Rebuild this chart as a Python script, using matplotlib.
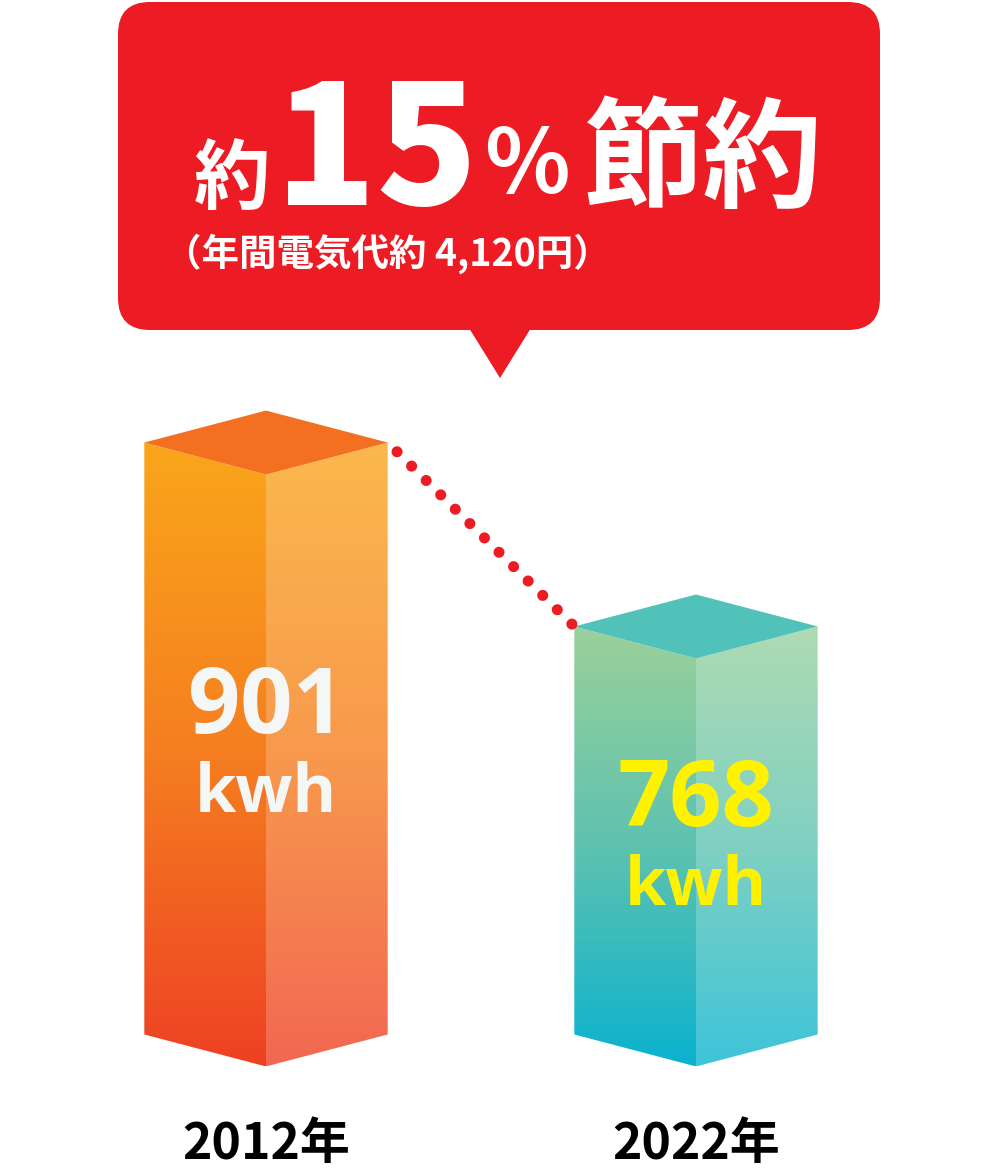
import numpy as np
import matplotlib.pyplot as plt
from matplotlib.colors import LinearSegmentedColormap
from matplotlib.patches import Polygon, FancyBboxPatch

# data
years = ['2012年', '2022年']
usage_kwh = [901, 768]
value_labels = ['901', '768']
unit_label = 'kwh'
headline = ['約', '15', '%', '節約']
subline = '（年間電気代約 4,120円）'

BASE = 473          # kwh level at the foot of the bars
HW = 0.283          # half width of a bar (category units)
D = 32              # depth of the top diamond (px)

left_cols = [['#FAA61A', '#F57E20', '#EE4124'], ['#9BD09A', '#5EC2B0', '#0AB2CE']]
right_cols = [['#FBB84C', '#F8994D', '#F26752'], ['#AEDBB3', '#80D0C2', '#3DC4D9']]
top_cols = ['#F37021', '#50C2BA']
text_cols = ['#F5F7F7', '#FFF200']
RED = '#ED1C24'

plt.rcParams['font.family'] = ['Noto Sans CJK JP', 'DejaVu Sans']

fig = plt.figure(figsize=(10, 11.7), dpi=100)
ax = fig.add_axes([0, 0, 1, 1])
ax.set_xlim(0, 1000)
ax.set_ylim(1170, 0)
ax.axis('off')

# value axes: x = category, y = kwh
vax = fig.add_axes([0, 0, 1, 1])
vax.set_xlim(-0.6186, 1.7070)
vax.set_ylim(375, 1221)
vax.axis('off')
vax.patch.set_visible(False)


def to_px(x, y):
    disp = vax.transData.transform(np.column_stack([np.atleast_1d(x), np.atleast_1d(y)]))
    return ax.transData.inverted().transform(disp)


def grad_face(verts, cols, z=2):
    verts = np.asarray(verts)
    poly = Polygon(verts, closed=True, facecolor='none', edgecolor='none')
    ax.add_patch(poly)
    cmap = LinearSegmentedColormap.from_list('g', cols)
    img = ax.imshow(np.linspace(0, 1, 256).reshape(-1, 1), cmap=cmap, aspect='auto',
                    extent=[verts[:, 0].min(), verts[:, 0].max(), verts[:, 1].max(), verts[:, 1].min()],
                    origin='upper', interpolation='bilinear', zorder=z)
    img.set_clip_path(poly)


# callout
ax.add_patch(FancyBboxPatch((118, 2), 762, 328, boxstyle='round,pad=0,rounding_size=32',
                            facecolor=RED, edgecolor='none', zorder=1))
ax.add_patch(Polygon([(469, 328), (531, 328), (500, 378)], closed=True,
                     facecolor=RED, edgecolor='none', zorder=1))

ax.text(232, 203, headline[0], fontsize=55, fontweight='bold', color='white',
        ha='center', va='baseline', zorder=3)
ax.text(376, 205, headline[1], fontsize=120, fontweight='heavy', color='white',
        ha='center', va='baseline', zorder=3)
ax.text(527, 193, headline[2], fontsize=64, fontweight='bold', color='white',
        ha='center', va='baseline', zorder=3)
ax.text(703, 198, headline[3], fontsize=86, fontweight='bold', color='white',
        ha='center', va='baseline', zorder=3)
ax.text(387, 266, subline, fontsize=27, fontweight='bold', color='white',
        ha='center', va='baseline', zorder=3)

# bars
corners = []
for i, v in enumerate(usage_kwh):
    (xl, yt), = to_px(i - HW, v)
    (xc, _), = to_px(i, v)
    (xr, _), = to_px(i + HW, v)
    (_, yb), = to_px(i, BASE)
    grad_face([(xl, yt), (xc, yt + D), (xc, yb + D), (xl, yb)], left_cols[i])
    grad_face([(xc, yt + D), (xr, yt), (xr, yb), (xc, yb + D)], right_cols[i])
    ax.add_patch(Polygon([(xl, yt), (xc, yt - D), (xr, yt), (xc, yt + D)], closed=True,
                         facecolor=top_cols[i], edgecolor='none', zorder=2))
    corners.append(((xl, yt), (xr, yt)))

    # labels inside the bar, about halfway down
    ty = yt + 0.49 * (yb - yt)
    ax.text(xc, ty, value_labels[i], fontsize=66, fontweight='bold', color=text_cols[i],
            family=['Open Sans', 'DejaVu Sans'], ha='center', va='baseline', zorder=4)
    ax.text(xc, ty + 79, unit_label, fontsize=48, fontweight='bold', color=text_cols[i],
            family=['Open Sans', 'DejaVu Sans'], ha='center', va='baseline', zorder=4)

    ax.text(xc, 1159, years[i], fontsize=36, fontweight='bold', color='black',
            ha='center', va='baseline', zorder=4)

# dotted connector between the bar tops
(x0, y0), (x1, y1) = corners[0][1], corners[1][0]
ax.plot([x0, x1], [y0, y1], color=RED, lw=8, linestyle=(0.66, (0.001, 1.84)),
        dash_capstyle='round', zorder=5)

ax.set_xlim(0, 1000)
ax.set_ylim(1170, 0)

fig.savefig('out.png', dpi=100, facecolor='white')
